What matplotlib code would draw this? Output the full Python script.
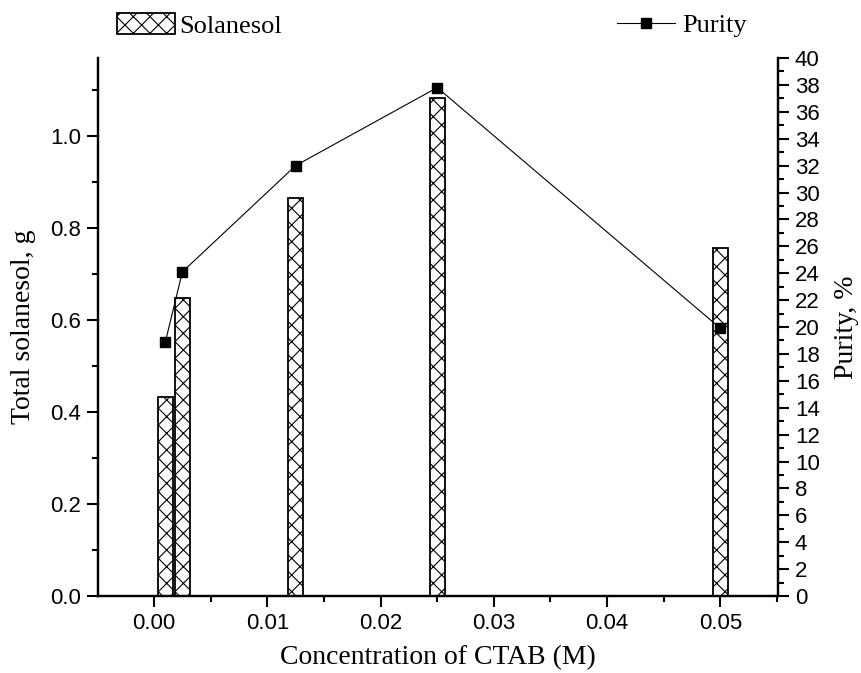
import matplotlib
matplotlib.use("Agg")
from matplotlib import pyplot as plt
from matplotlib.ticker import MultipleLocator
from matplotlib.patches import Patch
from matplotlib.lines import Line2D

# data
ctab = [0.001, 0.0025, 0.0125, 0.025, 0.05]
solanesol = [0.433, 0.648, 0.865, 1.083, 0.757]
purity = [18.9, 24.1, 32.0, 37.8, 19.9]

plt.rcParams['hatch.linewidth'] = 0.8
serif = 'Liberation Serif'
sans = 'Liberation Sans'

fig = plt.figure(figsize=(8.61, 6.73), dpi=100)
ax = fig.add_axes([0.1138, 0.1144, 0.790, 0.7994])
ax2 = ax.twinx()

ax.bar(ctab, solanesol, width=0.0013, color='white', edgecolor='black',
       linewidth=1.3, hatch='xx', zorder=2)
ax2.plot(ctab, purity, color='black', linewidth=0.8, marker='s',
         markersize=7, zorder=3)

ax.set_xlim(-0.00495, 0.0551)
ax.set_ylim(0, 1.17)
ax2.set_ylim(0, 40)

ax.xaxis.set_major_locator(MultipleLocator(0.01))
ax.xaxis.set_minor_locator(MultipleLocator(0.005))
ax.yaxis.set_major_locator(MultipleLocator(0.2))
ax.yaxis.set_minor_locator(MultipleLocator(0.1))
ax2.yaxis.set_major_locator(MultipleLocator(2))
ax2.yaxis.set_minor_locator(MultipleLocator(1))
ax.xaxis.set_major_formatter(lambda v, p: f"{v:.2f}")
ax.yaxis.set_major_formatter(lambda v, p: f"{v:.1f}")
ax2.yaxis.set_major_formatter(lambda v, p: f"{v:.0f}")

for a in (ax, ax2):
    a.spines['top'].set_visible(False)
    for s in a.spines.values():
        s.set_linewidth(1.6)
    a.tick_params(which='major', direction='out', length=8, width=1.5,
                  labelsize=16, pad=4)
    a.tick_params(which='minor', direction='out', length=4.5, width=1.5)
    for lab in a.get_xticklabels() + a.get_yticklabels():
        lab.set_fontfamily(sans)

ax.set_xlabel("Concentration of CTAB (M)", fontfamily=serif, fontsize=20,
              labelpad=8)
ax.set_ylabel("Total solanesol, g", fontfamily=serif, fontsize=20, labelpad=10)
ax2.set_ylabel("Purity, %", fontfamily=serif, fontsize=20, labelpad=10)

h1 = Patch(facecolor='white', edgecolor='black', hatch='xx', linewidth=1.3)
h2 = Line2D([], [], color='black', linewidth=0.8, marker='s', markersize=7)
leg1 = fig.legend([h1], ["Solanesol"], loc='center left',
                  bbox_to_anchor=(0.124, 0.962), frameon=False,
                  prop={'family': serif, 'size': 19}, handlelength=2.2,
                  handleheight=0.8, handletextpad=0.15, borderaxespad=0)
leg2 = fig.legend([h2], ["Purity"], loc='center left',
                  bbox_to_anchor=(0.704, 0.962), frameon=False,
                  prop={'family': serif, 'size': 19}, handlelength=2.2,
                  handletextpad=0.3, borderaxespad=0)

fig.savefig("out.png", dpi=100)
